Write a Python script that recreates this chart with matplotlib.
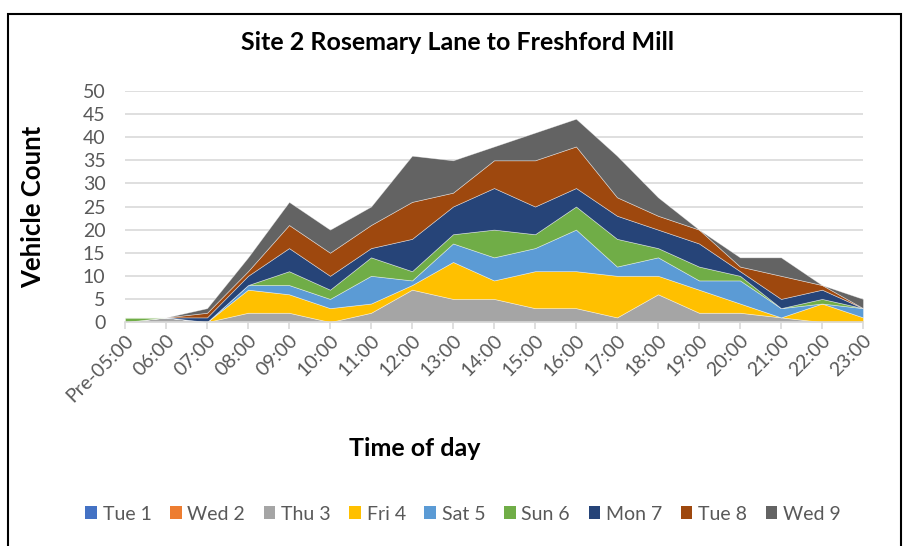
import matplotlib
matplotlib.use("Agg")
import matplotlib.pyplot as plt
from matplotlib.patches import Rectangle, Patch
import numpy as np

plt.rcParams['font.family'] = ['Lato', 'DejaVu Sans']

hours = ["Pre-05:00", "06:00", "07:00", "08:00", "09:00", "10:00", "11:00", "12:00",
         "13:00", "14:00", "15:00", "16:00", "17:00", "18:00", "19:00", "20:00",
         "21:00", "22:00", "23:00"]
series_names = ["Tue 1", "Wed 2", "Thu 3", "Fri 4", "Sat 5", "Sun 6", "Mon 7", "Tue 8", "Wed 9"]
tue1 = [0] * 19
wed2 = [0] * 19
thu3 = [0, 1, 0, 2, 2, 0, 2, 7, 5, 5, 3, 3, 1, 6, 2, 2, 1, 0, 0]
fri4 = [0, 0, 0, 5, 4, 3, 2, 1, 8, 4, 8, 8, 9, 4, 5, 2, 0, 4, 1]
sat5 = [0, 0, 0, 1, 2, 2, 6, 1, 4, 5, 5, 9, 2, 4, 2, 5, 2, 0, 2]
sun6 = [1, 0, 0, 0, 3, 2, 4, 2, 2, 6, 3, 5, 6, 2, 3, 1, 0, 1, 0]
mon7 = [0, 0, 1, 2, 5, 3, 2, 7, 6, 9, 6, 4, 5, 4, 5, 1, 2, 2, 0]
tue8 = [0, 0, 1, 1, 5, 5, 5, 8, 3, 6, 10, 9, 4, 3, 3, 1, 5, 1, 0]
wed9 = [0, 0, 1, 3, 5, 5, 4, 10, 7, 3, 6, 6, 9, 4, 0, 2, 4, 0, 2]
colors = ["#4472C4", "#ED7D31", "#A5A5A5", "#FFC000", "#5B9BD5", "#70AD47",
          "#264478", "#9E480E", "#636363"]

W, H = 909, 546
fig = plt.figure(figsize=(W / 100, H / 100), dpi=100)

# outer chart border
fig.patches.append(Rectangle((8 / W, -0.05), (901 - 8) / W, 1.05 - 14 / H,
                             transform=fig.transFigure, fill=False,
                             edgecolor="black", linewidth=1.5))

ax = fig.add_axes([125 / W, 1 - 322 / H, 738 / W, 231 / H])
x = np.arange(len(hours))
polys = ax.stackplot(x, tue1, wed2, thu3, fri4, sat5, sun6, mon7, tue8, wed9,
                     colors=colors, labels=series_names, zorder=2)
for p in polys:
    p.set_edgecolor((1, 1, 1, 0.5))
    p.set_linewidth(0.5)

ax.set_xlim(0, len(hours) - 1)
ax.set_ylim(0, 50)
ax.set_yticks(np.arange(0, 51, 5))
ax.yaxis.grid(True, color="#D9D9D9", linewidth=1.2, zorder=0)
ax.set_axisbelow(True)
for s in ["top", "right", "left"]:
    ax.spines[s].set_visible(False)
ax.spines["bottom"].set_color("#D9D9D9")
ax.spines["bottom"].set_linewidth(1.2)
ax.tick_params(axis="y", length=0, labelsize=14, labelcolor="#595959", pad=14)
ax.tick_params(axis="x", length=5, color="#D9D9D9", width=1.2, labelsize=14,
               labelcolor="#595959", pad=2)
ax.set_xticks(x)
ax.set_xticklabels(hours, rotation=45, ha="right", rotation_mode="anchor")

fig.text(458 / W, 1 - 42 / H, "Site 2 Rosemary Lane to Freshford Mill",
         ha="center", va="center", fontsize=18, fontweight="bold")
fig.text(33 / W, 1 - 207 / H, "Vehicle Count", ha="center", va="center",
         rotation=90, fontsize=18.5, fontweight="bold")
fig.text(415 / W, 1 - 448 / H, "Time of day", ha="center", va="center",
         fontsize=18, fontweight="bold")

handles = [Patch(facecolor=c) for c in colors]
fig.legend(handles, series_names, loc="center", bbox_to_anchor=(463 / W, 1 - 514 / H),
           ncol=9, frameon=False, fontsize=14, handlelength=0.6, handleheight=0.6,
           handletextpad=0.3, columnspacing=0.95, labelcolor="#595959")

fig.savefig("out.png", dpi=100)
